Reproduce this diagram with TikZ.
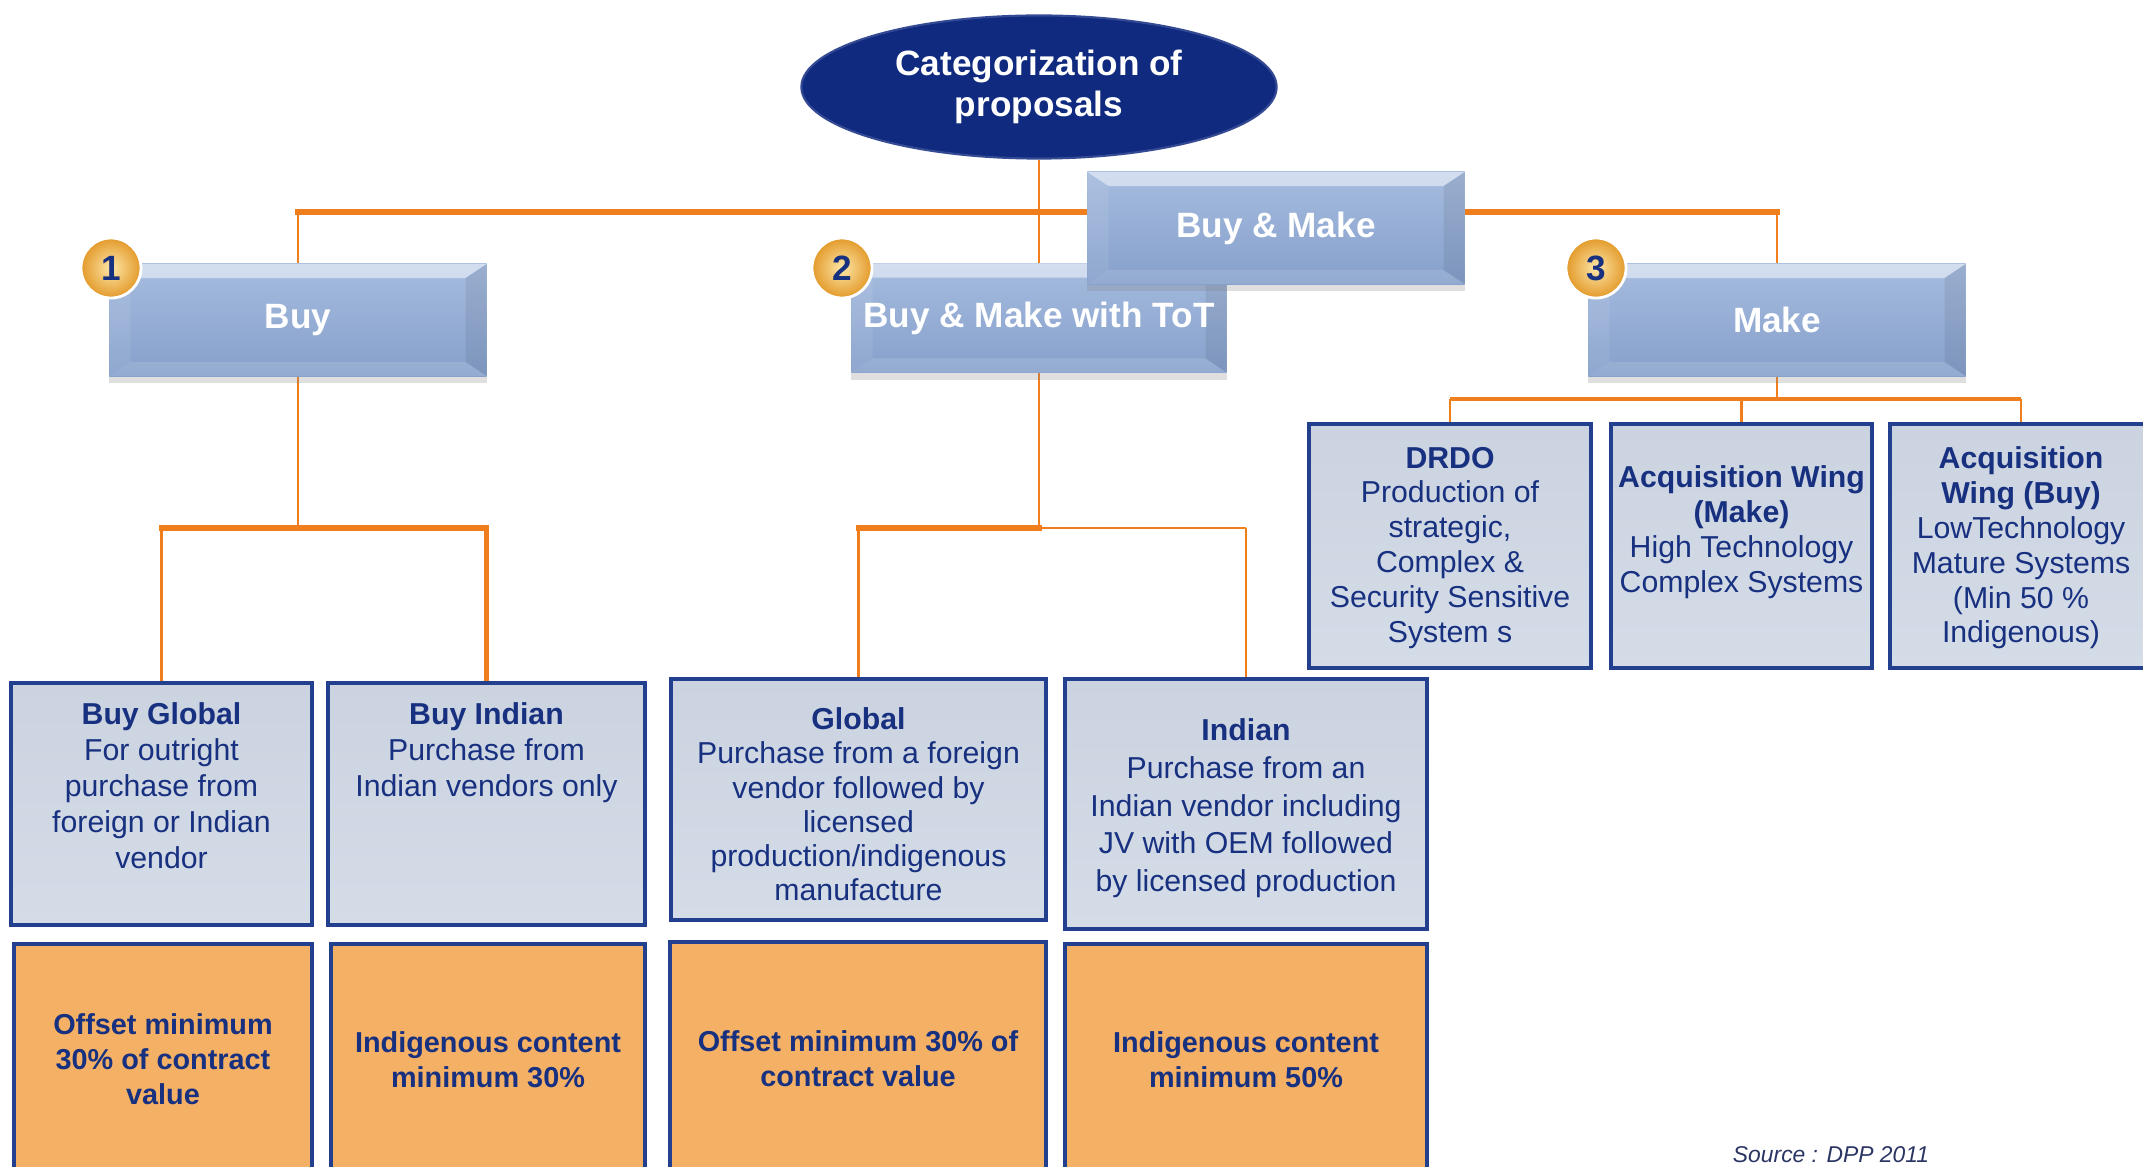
\documentclass[tikz,border=0pt]{standalone}
\usepackage{fontspec}
\setmainfont{Liberation Sans}
\usetikzlibrary{positioning,shadows,shapes.geometric}
\pgfdeclarelayer{background}
\pgfsetlayers{background,main}

\definecolor{catnavy}{HTML}{102A80}
\definecolor{navytext}{HTML}{17307F}
\definecolor{boxedge}{HTML}{23408F}
\definecolor{linkorange}{HTML}{F07E1C}
\definecolor{blocktop}{HTML}{A6BCDF}
\definecolor{blockbot}{HTML}{86A0CB}
\definecolor{infotop}{HTML}{CBD3E0}
\definecolor{infobot}{HTML}{D4DCE8}
\definecolor{offsetfill}{HTML}{F4B166}
\definecolor{badgein}{HTML}{FDE6A8}
\definecolor{badgeout}{HTML}{E39A2A}
\definecolor{sourcegray}{HTML}{2B3563}

\begin{document}
\begin{tikzpicture}[x=0.01cm, y=-0.01cm]
    \tikzset{
        category/.style = {ellipse, fill=catnavy, draw=catnavy!85!white, line width=0.6pt,
                           minimum width=4.75cm, minimum height=1.43cm, inner sep=0pt,
                           align=center, text=white,
                           font=\fontsize{10}{11.6}\selectfont\bfseries},
        catbox/.style   = {rectangle, minimum width=3.77cm, minimum height=1.12cm, inner sep=0pt,
                           top color=blocktop, bottom color=blockbot, draw=none, text=white,
                           font=\fontsize{10}{12}\selectfont\bfseries,
                           drop shadow={shadow xshift=0pt, shadow yshift=-2pt, opacity=0.25},
                           path picture={
                               \fill[white, opacity=0.5] (path picture bounding box.north west)
                                   -- (path picture bounding box.north east)
                                   -- ([shift={(-6pt,-4pt)}]path picture bounding box.north east)
                                   -- ([shift={(6pt,-4pt)}]path picture bounding box.north west) -- cycle;
                               \fill[white, opacity=0.08] (path picture bounding box.north west)
                                   -- ([shift={(6pt,-4pt)}]path picture bounding box.north west)
                                   -- ([shift={(6pt,4pt)}]path picture bounding box.south west)
                                   -- (path picture bounding box.south west) -- cycle;
                               \fill[black, opacity=0.07] (path picture bounding box.north east)
                                   -- ([shift={(-6pt,-4pt)}]path picture bounding box.north east)
                                   -- ([shift={(-6pt,4pt)}]path picture bounding box.south east)
                                   -- (path picture bounding box.south east) -- cycle;
                               \fill[white, opacity=0.12] (path picture bounding box.south west)
                                   -- ([shift={(6pt,4pt)}]path picture bounding box.south west)
                                   -- ([shift={(-6pt,4pt)}]path picture bounding box.south east)
                                   -- (path picture bounding box.south east) -- cycle;
                           }},
        badge/.style    = {circle, minimum size=0.6cm, inner sep=0pt,
                           inner color=badgein, outer color=badgeout, draw=white, line width=0.8pt,
                           text=navytext, font=\fontsize{10}{12}\selectfont\bfseries},
        infobox/.style  = {rectangle, inner sep=0pt, draw=boxedge, line width=1pt,
                           top color=infotop, bottom color=infobot},
        infotext/.style = {align=center, inner sep=0pt, text=navytext,
                           font=\fontsize{8.6}{10.2}\selectfont},
        offset/.style   = {rectangle, inner sep=0pt, draw=boxedge, line width=1.2pt,
                           fill=offsetfill, align=center, text=navytext,
                           font=\fontsize{8.2}{10}\selectfont\bfseries},
        source/.style   = {text=sourcegray, font=\fontsize{6.5}{8}\selectfont\itshape, inner sep=0pt},
        link/.style     = {draw=linkorange, line width=0.8pt},
        trunk/.style    = {draw=linkorange, line width=1.6pt, line cap=rect},
        branch/.style   = {draw=linkorange, line width=1.1pt}
    }
    \useasboundingbox (0,0) rectangle (2143,1167);

    % root
    \node[category] (cat) at (1039,87) {Categorization of\\proposals};

    % categories
    \node[catbox] (buy) at (298,320) {Buy};
    \node[catbox, minimum width=3.75cm, minimum height=1.09cm] (bmtot) at (1039,318) {Buy \& Make with ToT};
    \node[catbox] (bm) at (1276,228) {Buy \& Make};
    \node[catbox] (make) at (1777,320) {Make};

    \node[badge] (one) at (111,268) {1};
    \node[badge] (two) at (842,268) {2};
    \node[badge] (three) at (1596,268) {3};

    % sub categories
    \node[infobox, minimum width=3.01cm, minimum height=2.42cm] (bglobal) at (161.5,804) {};
    \node[infobox, minimum width=3.17cm, minimum height=2.42cm] (bindian) at (486.5,804) {};
    \node[infobox, minimum width=3.75cm, minimum height=2.41cm] (global) at (858.5,799.5) {};
    \node[infobox, minimum width=3.62cm, minimum height=2.50cm] (indian) at (1246,804) {};
    \node[infobox, minimum width=2.82cm, minimum height=2.44cm] (drdo) at (1450,546) {};
    \node[infobox, minimum width=2.61cm, minimum height=2.44cm] (acqmake) at (1741.5,546) {};
    \node[infobox, minimum width=2.62cm, minimum height=2.44cm] (acqbuy) at (2021,546) {};

    \node[infotext, below=0.21cm of bglobal.north] (bglobaltxt)
        {\textbf{Buy Global}\\For outright\\purchase from\\foreign or Indian\\vendor};
    \node[infotext, below=0.21cm of bindian.north] (bindiantxt)
        {\textbf{Buy Indian}\\Purchase from\\Indian vendors only};
    \node[infotext, below=0.30cm of global.north, font=\fontsize{8.6}{9.7}\selectfont] (globaltxt)
        {\textbf{Global}\\Purchase from a foreign\\vendor followed by\\licensed\\production/indigenous\\manufacture};
    \node[infotext, below=0.41cm of indian.north, font=\fontsize{8.6}{10.7}\selectfont] (indiantxt)
        {\textbf{Indian}\\Purchase from an\\Indian vendor including\\JV with OEM followed\\by licensed production};
    \node[infotext, below=0.24cm of drdo.north, font=\fontsize{8.6}{9.9}\selectfont] (drdotxt)
        {\textbf{DRDO}\\Production of\\strategic,\\Complex \&\\Security Sensitive\\System s};
    \node[infotext, below=0.43cm of acqmake.north, font=\fontsize{8.6}{9.9}\selectfont] (acqmaketxt)
        {\textbf{Acquisition Wing}\\\textbf{(Make)}\\High Technology\\Complex Systems};
    \node[infotext, below=0.24cm of acqbuy.north, font=\fontsize{8.6}{9.9}\selectfont] (acqbuytxt)
        {\textbf{Acquisition}\\\textbf{Wing (Buy)}\\LowTechnology\\Mature Systems\\(Min 50 \%\\Indigenous)};

    % offset and content
    \node[offset, minimum width=2.98cm, minimum height=2.31cm] (off1) at (163,1059.5)
        {Offset minimum\\30\% of contract\\value};
    \node[offset, minimum width=3.14cm, minimum height=2.31cm] (ind1) at (488,1059.5)
        {Indigenous content\\minimum 30\%};
    \node[offset, minimum width=3.76cm, minimum height=2.33cm] (off2) at (858,1058.5)
        {Offset minimum 30\% of\\contract value};
    \node[offset, minimum width=3.62cm, minimum height=2.31cm] (ind2) at (1246,1059.5)
        {Indigenous content\\minimum 50\%};

    \node[source] (src) at (1831,1155) {Source : DPP 2011};

    \begin{pgfonlayer}{background}
        \coordinate (bar) at (1039,212);
        \draw[trunk] (buy.north |- bar) -- (make.north |- bar);
        \draw[link] (buy.north) -- (buy.north |- bar);
        \draw[link] (make.north) -- (make.north |- bar);
        \draw[link] (cat.south) -- (bmtot.north);

        % buy
        \coordinate (buyfork) at (298,528);
        \draw[link] (buy.south) -- (buyfork);
        \draw[trunk] (bglobal.north |- buyfork) -- (bindian.north |- buyfork);
        \draw[link] (bglobal.north |- buyfork) -- (bglobal.north);
        \draw[trunk] (bindian.north |- buyfork) -- (bindian.north);

        % buy & make with tot
        \coordinate (totfork) at (1039,528);
        \draw[link] (bmtot.south) -- (totfork);
        \draw[trunk] (totfork) -- (global.north |- totfork);
        \draw[link] (totfork) -- (indian.north |- totfork);
        \draw[link] (global.north |- totfork) -- (global.north);
        \draw[link] (indian.north |- totfork) -- (indian.north);

        % make
        \coordinate (makefork) at (1777,399);
        \draw[link] (make.south) -- (makefork);
        \draw[branch] (drdo.north |- makefork) -- (acqbuy.north |- makefork);
        \draw[link] (drdo.north |- makefork) -- (drdo.north);
        \draw[link] (acqmake.north |- makefork) -- (acqmake.north);
        \draw[link] (acqbuy.north |- makefork) -- (acqbuy.north);
    \end{pgfonlayer}
\end{tikzpicture}
\end{document}
